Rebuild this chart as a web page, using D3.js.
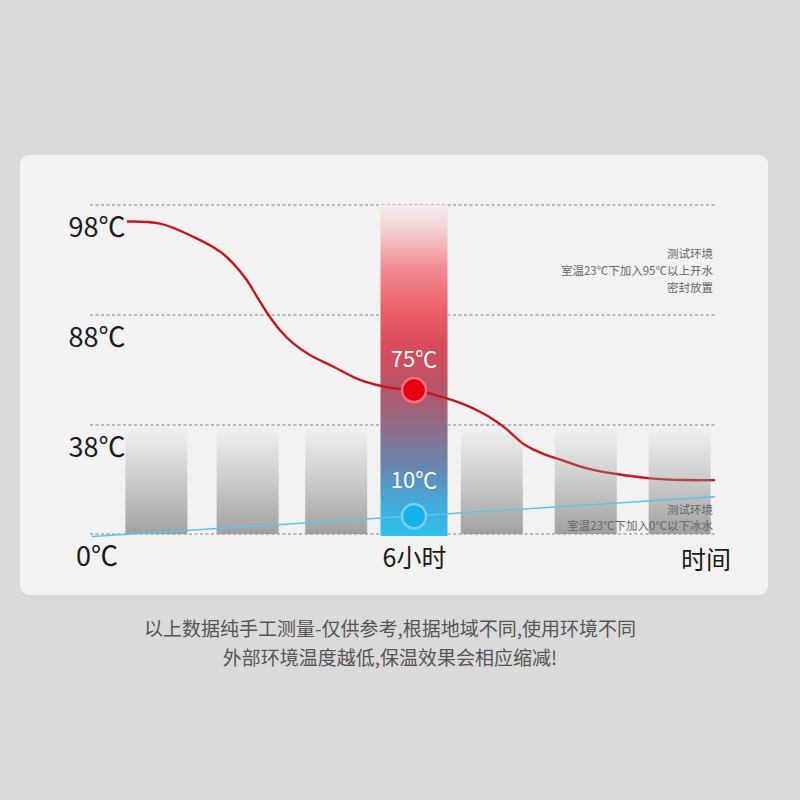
<!DOCTYPE html>
<html>
<head>
<meta charset="utf-8">
<script src="https://cdn.jsdelivr.net/npm/d3@7"></script>
<style>
  html, body { margin: 0; padding: 0; background: #dadada; }
  svg { display: block; }
  text { font-family: "Noto Sans CJK SC", "Noto Sans", sans-serif; }
</style>
</head>
<body>
<div id="chart"></div>
<script>
// Y ticks (the axis is not linear: 4 evenly spaced levels)
const yTicks = [0, 38, 88, 98];

// Hot water curve (hours, ℃)
const hotHours = [0.65, 1.27, 1.89, 2.39, 2.63, 2.88, 3.07, 3.29, 3.5, 3.75, 4.06, 4.5, 4.99, 5.61, 6,
                  6.61, 6.92, 7.23, 7.54, 7.73, 7.91, 8.07, 8.22, 8.47, 8.78, 9.22, 9.78, 10.4, 11.02, 11.61];
const hotTemps = [96.5, 96.3, 95.1, 93.75, 92.7, 91.2, 89.7, 88.0, 81.2, 75.1, 69.8, 64.5, 58.5, 54.7, 53.9,
                  50.1, 47.5, 44.0, 39.5, 36.5, 33.4, 31.0, 29.5, 27.5, 25.6, 22.9, 20.9, 19.4, 18.8, 18.8];

// Ice water line (hours, ℃)
const coldHours = [0, 11.61];
const coldTemps = [-0.9, 13.0];

// Background bars (hours) and their height
const barHours = [1.2, 2.9, 4.55, 7.45, 9.2, 10.95];
const barTop = 38;

// Highlighted moment
const highlightHour = 6;
const highlightTop = 98;
const markerTemps = [53.9, 6.2];
const markerLabels = ['75℃', '10℃'];

const hotNote = ['测试环境', '室温23℃下加入95℃以上开水', '密封放置'];
const coldNote = ['测试环境', '室温23℃下加入0℃以下冰水'];
const footer = ['以上数据纯手工测量-仅供参考,根据地域不同,使用环境不同',
                '外部环境温度越低,保温效果会相应缩减!'];

const svg = d3.select('#chart')
    .append('svg')
    .attr('width', 800)
    .attr('height', 800);

const defs = svg.append('defs');

// Gradient for the 6h column
const hl = defs.append('linearGradient')
    .attr('id', 'hlGrad')
    .attr('x1', 0).attr('y1', 0).attr('x2', 0).attr('y2', 1);
[['0%', '#f4eeef'], ['8%', '#f4cdd0'], ['20%', '#f18990'], ['32%', '#ec5e67'],
 ['42%', '#d94b59'], ['55%', '#b85468'], ['68%', '#8d6e8c'], ['80%', '#6489b2'],
 ['90%', '#43aadb'], ['100%', '#2ec0ec']].forEach(s => {
    hl.append('stop').attr('offset', s[0]).attr('stop-color', s[1]);
});

// Gradient for the gray bars
const gb = defs.append('linearGradient')
    .attr('id', 'barGrad')
    .attr('x1', 0).attr('y1', 0).attr('x2', 0).attr('y2', 1);
gb.append('stop').attr('offset', '0%').attr('stop-color', '#9a9a9a').attr('stop-opacity', 0);
gb.append('stop').attr('offset', '100%').attr('stop-color', '#8c8c8c').attr('stop-opacity', 0.8);

// Card
svg.append('rect')
    .attr('x', 20).attr('y', 155)
    .attr('width', 748).attr('height', 440)
    .attr('rx', 9)
    .attr('fill', '#f2f2f2');

// Scales
const x = d3.scaleLinear()
    .domain([0, 12])
    .range([92, 736]);
const y = d3.scaleLinear()
    .domain(yTicks)
    .range([534, 425, 315, 205]);

// Grid lines
svg.append('g')
    .selectAll('line')
    .data(yTicks)
    .enter()
    .append('line')
    .attr('x1', 90)
    .attr('x2', 715)
    .attr('y1', d => y(d))
    .attr('y2', d => y(d))
    .attr('stroke', '#a8a8a8')
    .attr('stroke-width', 1.3)
    .attr('stroke-dasharray', '3,2.5');

// Y axis labels
const yAxis = svg.append('g')
    .attr('transform', 'translate(97,0)')
    .call(d3.axisLeft(y).tickValues(yTicks).tickFormat(d => d + '℃').tickSize(0));
yAxis.select('.domain').remove();
yAxis.selectAll('text')
    .attr('x', 0)
    .attr('dy', '0.36em')
    .attr('transform', 'translate(0,22)')
    .attr('text-anchor', 'middle')
    .style('font-family', '"Noto Sans CJK SC", sans-serif')
    .style('font-size', '27px')
    .attr('fill', '#1a1a1a');

// Highlight column
svg.append('rect')
    .attr('x', x(highlightHour) - 33.5)
    .attr('y', y(highlightTop))
    .attr('width', 67)
    .attr('height', y(0) - y(highlightTop) + 2)
    .attr('fill', 'url(#hlGrad)');

// Hot water curve
const hotLine = d3.line()
    .x(d => x(d[0]))
    .y(d => y(d[1]))
    .curve(d3.curveCatmullRom.alpha(0.5));
svg.append('path')
    .datum(hotHours.map((h, i) => [h, hotTemps[i]]))
    .attr('d', hotLine)
    .attr('fill', 'none')
    .attr('stroke', '#c8161d')
    .attr('stroke-width', 2.4);

// Gray bars (over the red line so it fades behind them)
svg.append('g')
    .selectAll('rect')
    .data(barHours)
    .enter()
    .append('rect')
    .attr('x', d => x(d) - 31)
    .attr('y', y(barTop))
    .attr('width', 62)
    .attr('height', y(0) - y(barTop))
    .attr('fill', 'url(#barGrad)');

// Ice water line
svg.append('path')
    .datum(coldHours.map((h, i) => [h, coldTemps[i]]))
    .attr('d', d3.line().x(d => x(d[0])).y(d => y(d[1])))
    .attr('fill', 'none')
    .attr('stroke', '#5cc6ea')
    .attr('stroke-width', 1.5);

// Markers
const markerFill = ['#e60012', '#12b1ea'];
const markerRing = ['#f7727c', '#7ad3f3'];
svg.append('g')
    .selectAll('circle')
    .data(markerTemps)
    .enter()
    .append('circle')
    .attr('cx', x(highlightHour))
    .attr('cy', d => y(d))
    .attr('r', 12)
    .attr('fill', (d, i) => markerFill[i])
    .attr('stroke', (d, i) => markerRing[i])
    .attr('stroke-width', 2.5);

svg.append('g')
    .selectAll('text')
    .data(markerTemps)
    .enter()
    .append('text')
    .attr('x', x(highlightHour))
    .attr('y', (d, i) => y(d) - (i === 0 ? 31 : 36))
    .attr('dy', '0.36em')
    .attr('text-anchor', 'middle')
    .style('font-size', '22px')
    .attr('fill', '#ffffff')
    .text((d, i) => markerLabels[i]);

// X axis: 6小时 tick and title
const xAxis = svg.append('g')
    .attr('transform', `translate(0,${y(0)})`)
    .call(d3.axisBottom(x).tickValues([highlightHour]).tickFormat(d => d + '小时').tickSize(0));
xAxis.select('.domain').remove();
xAxis.selectAll('text')
    .attr('y', 24)
    .attr('dy', '0.36em')
    .style('font-family', '"Noto Sans CJK SC", sans-serif')
    .style('font-size', '25px')
    .attr('fill', '#1a1a1a');

svg.append('text')
    .attr('x', 706)
    .attr('y', y(0) + 26)
    .attr('dy', '0.36em')
    .attr('text-anchor', 'middle')
    .style('font-size', '25px')
    .attr('fill', '#1a1a1a')
    .text('时间');

// Test notes
svg.append('g')
    .selectAll('text')
    .data(hotNote)
    .enter()
    .append('text')
    .attr('x', 713)
    .attr('y', (d, i) => 254 + i * 17)
    .attr('dy', '0.36em')
    .attr('text-anchor', 'end')
    .style('font-size', '11.5px')
    .attr('fill', '#666666')
    .text(d => d);

svg.append('g')
    .selectAll('text')
    .data(coldNote)
    .enter()
    .append('text')
    .attr('x', 713)
    .attr('y', (d, i) => 510 + i * 16)
    .attr('dy', '0.36em')
    .attr('text-anchor', 'end')
    .style('font-size', '11.5px')
    .attr('fill', '#666666')
    .text(d => d);

// Footer
svg.append('g')
    .selectAll('text')
    .data(footer)
    .enter()
    .append('text')
    .attr('x', 390)
    .attr('y', (d, i) => 629 + i * 29)
    .attr('dy', '0.36em')
    .attr('text-anchor', 'middle')
    .style('font-size', '19px')
    .attr('fill', '#555555')
    .text(d => d);
</script>
</body>
</html>
